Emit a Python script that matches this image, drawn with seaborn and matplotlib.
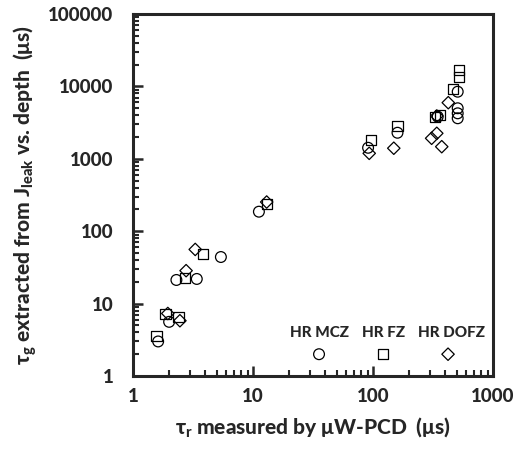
import matplotlib
matplotlib.use("Agg")
import matplotlib.pyplot as plt
import seaborn as sns
import pandas as pd
from matplotlib.ticker import FixedLocator, FixedFormatter, LogLocator, NullFormatter

# ---- data ----
mcz_x = [1.62, 2.0, 2.3, 3.4, 5.4, 11.2, 91, 160, 346, 508, 508, 508, 508]
mcz_y = [3.0, 5.6, 21.2, 21.9, 44, 186, 1420, 2290, 3820, 8450, 4990, 4250, 3630]

fz_x = [1.57, 1.87, 2.39, 2.71, 3.85, 13.0, 95.7, 160, 328, 362, 467, 521, 521]
fz_y = [3.57, 7.2, 6.5, 22.4, 48.4, 238, 1820, 2840, 3820, 4030, 9120, 16860, 13620]

dofz_x = [1.95, 2.46, 2.77, 3.3, 13.0, 93, 149, 308, 340, 374, 340, 424]
dofz_y = [7.3, 5.8, 28.5, 56, 253, 1190, 1400, 1920, 2250, 1470, 3900, 5960]

legend_names = ["HR MCZ", "HR FZ", "HR DOFZ"]
legend_x = [35.5, 121, 422]
legend_y = [2, 2, 2]
legend_text_x = [35.5, 123, 455]
legend_text_y = 3.9

xticks = [1, 10, 100, 1000]
xtick_labels = ["1", "10", "100", "1000"]
yticks = [1, 10, 100, 1000, 10000, 100000]
ytick_labels = ["1", "10", "100", "1000", "10000", "100000"]

sns.set_style("ticks")
plt.rcParams["font.family"] = ["Lato", "DejaVu Sans"]
plt.rcParams["mathtext.fontset"] = "custom"
plt.rcParams["mathtext.rm"] = "Lato:bold"
plt.rcParams["mathtext.default"] = "rm"

fig = plt.figure(figsize=(5.17, 4.49), dpi=100)
ax = fig.add_axes([133 / 517, 1 - 376 / 449, 360 / 517, 362 / 449])

groups = [
    (mcz_x, mcz_y, "o", 60),
    (fz_x, fz_y, "s", 55),
    (dofz_x, dofz_y, "D", 40),
]
for (gx, gy, mk, sz) in groups:
    df = pd.DataFrame({"x": gx, "y": gy})
    sns.scatterplot(data=df, x="x", y="y", marker=mk, s=sz, facecolor="none",
                    edgecolor="black", linewidth=0.9, ax=ax, zorder=3)

for (lx, ly, mk, sz) in zip(legend_x, legend_y, ["o", "s", "D"], [60, 55, 40]):
    df = pd.DataFrame({"x": [lx], "y": [ly]})
    sns.scatterplot(data=df, x="x", y="y", marker=mk, s=sz, facecolor="none",
                    edgecolor="black", linewidth=0.9, ax=ax, zorder=3)

for name, tx in zip(legend_names, legend_text_x):
    ax.text(tx, legend_text_y, name, ha="center", va="center",
            fontsize=11, fontweight="black")

ax.set_xscale("log")
ax.set_yscale("log")
ax.set_xlim(1, 1000)
ax.set_ylim(1, 100000)

ax.xaxis.set_major_locator(FixedLocator(xticks))
ax.xaxis.set_major_formatter(FixedFormatter(xtick_labels))
ax.yaxis.set_major_locator(FixedLocator(yticks))
ax.yaxis.set_major_formatter(FixedFormatter(ytick_labels))
ax.xaxis.set_minor_locator(LogLocator(base=10, subs=range(2, 10)))
ax.yaxis.set_minor_locator(LogLocator(base=10, subs=range(2, 10)))
ax.xaxis.set_minor_formatter(NullFormatter())
ax.yaxis.set_minor_formatter(NullFormatter())

ax.tick_params(axis="both", which="major", direction="in", length=7, width=1.8,
               labelsize=13.5)
ax.tick_params(axis="y", which="major", pad=14)
ax.tick_params(axis="x", which="major", pad=9)
ax.tick_params(axis="both", which="minor", direction="in", length=4, width=1.5)
for lab in ax.get_xticklabels() + ax.get_yticklabels():
    lab.set_fontweight("black")

for sp in ax.spines.values():
    sp.set_visible(True)
    sp.set_linewidth(2.2)

ax.set_xlabel("τ$_\\mathregular{r}$ measured by μW-PCD  (μs)", fontsize=15,
              fontweight="black", labelpad=7)
ax.set_ylabel("τ$_\\mathregular{g}$ extracted from J$_\\mathregular{leak}$ vs. depth  (μs)",
              fontsize=15, fontweight="black", labelpad=6)

fig.savefig("out.png", dpi=100)
